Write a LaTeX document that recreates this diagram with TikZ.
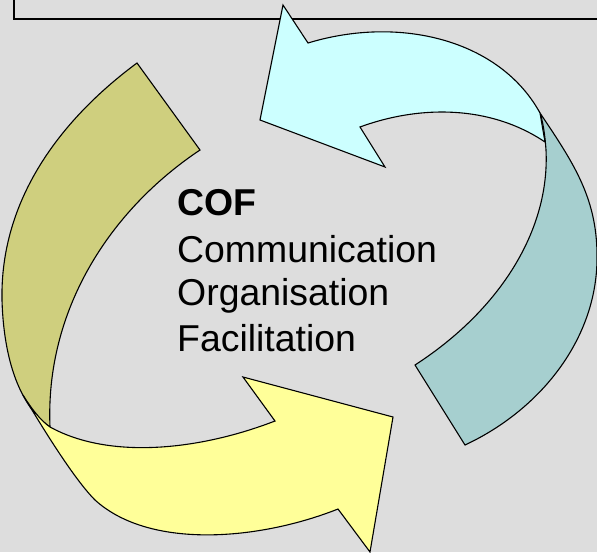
\documentclass[tikz,border=0pt]{standalone}
\usepackage{fontspec}
\setmainfont{Liberation Sans}
\definecolor{bgc}{RGB}{221,221,221}
\definecolor{cyanf}{RGB}{204,255,255}
\definecolor{tealf}{RGB}{166,207,207}
\definecolor{olivef}{RGB}{207,207,126}
\definecolor{yellowf}{RGB}{255,255,153}
\tikzset{
  ribbon/.style={draw=black, line width=1.1pt, line join=miter},
  txt/.style={anchor=base west, inner sep=0pt, font=\fontsize{37.4}{44}\selectfont},
}
\begin{document}
\begin{tikzpicture}[x=1pt,y=-1pt]
\clip (0,0) rectangle (597,552);
\fill[bgc] (0,0) rectangle (597,552);
\draw[line width=2pt] (14,-10) rectangle (620,19);

% olive back side of the yellow arrow
\filldraw[ribbon, fill=olivef] (137,63) -- (200,150)
  .. controls (110,210) and (45,310) .. (50,427)
  .. controls (25,410) and (4,370) .. (2,300)
  .. controls (0,200) and (60,120) .. (137,63)
  -- cycle;
% yellow arrow
\filldraw[ribbon, fill=yellowf] (23,395)
  .. controls (31,408) and (40,420) .. (50,427)
  .. controls (110,460) and (200,450) .. (275,421)
  -- (243,377) -- (393,417) -- (370,552) -- (338,509)
  .. controls (260,540) and (150,550) .. (95,500)
  .. controls (75,480) and (45,432) .. (23,395)
  -- cycle;
% teal back side of the cyan arrow
\filldraw[ribbon, fill=tealf] (540,113)
  .. controls (575,165) and (598,200) .. (597,260)
  .. controls (596,340) and (540,410) .. (465,445)
  -- (415,365)
  .. controls (500,310) and (550,230) .. (546,150)
  .. controls (545,135) and (543,122) .. (540,113)
  -- cycle;
% cyan arrow
\filldraw[ribbon, fill=cyanf] (308,43) -- (283,5) -- (260,120) -- (385,167) -- (360,127)
  .. controls (420,105) and (490,105) .. (545,142)
  -- (540,113)
  .. controls (500,40) and (400,15) .. (308,43)
  -- cycle;

\node[txt, font=\fontsize{37.4}{44}\selectfont\bfseries] (cof) at (177,215) {COF};
\node[txt] (comm) at (177,262) {Communication};
\node[txt] (org) at (177,305) {Organisation};
\node[txt] (fac) at (177,351) {Facilitation};
\end{tikzpicture}
\end{document}
